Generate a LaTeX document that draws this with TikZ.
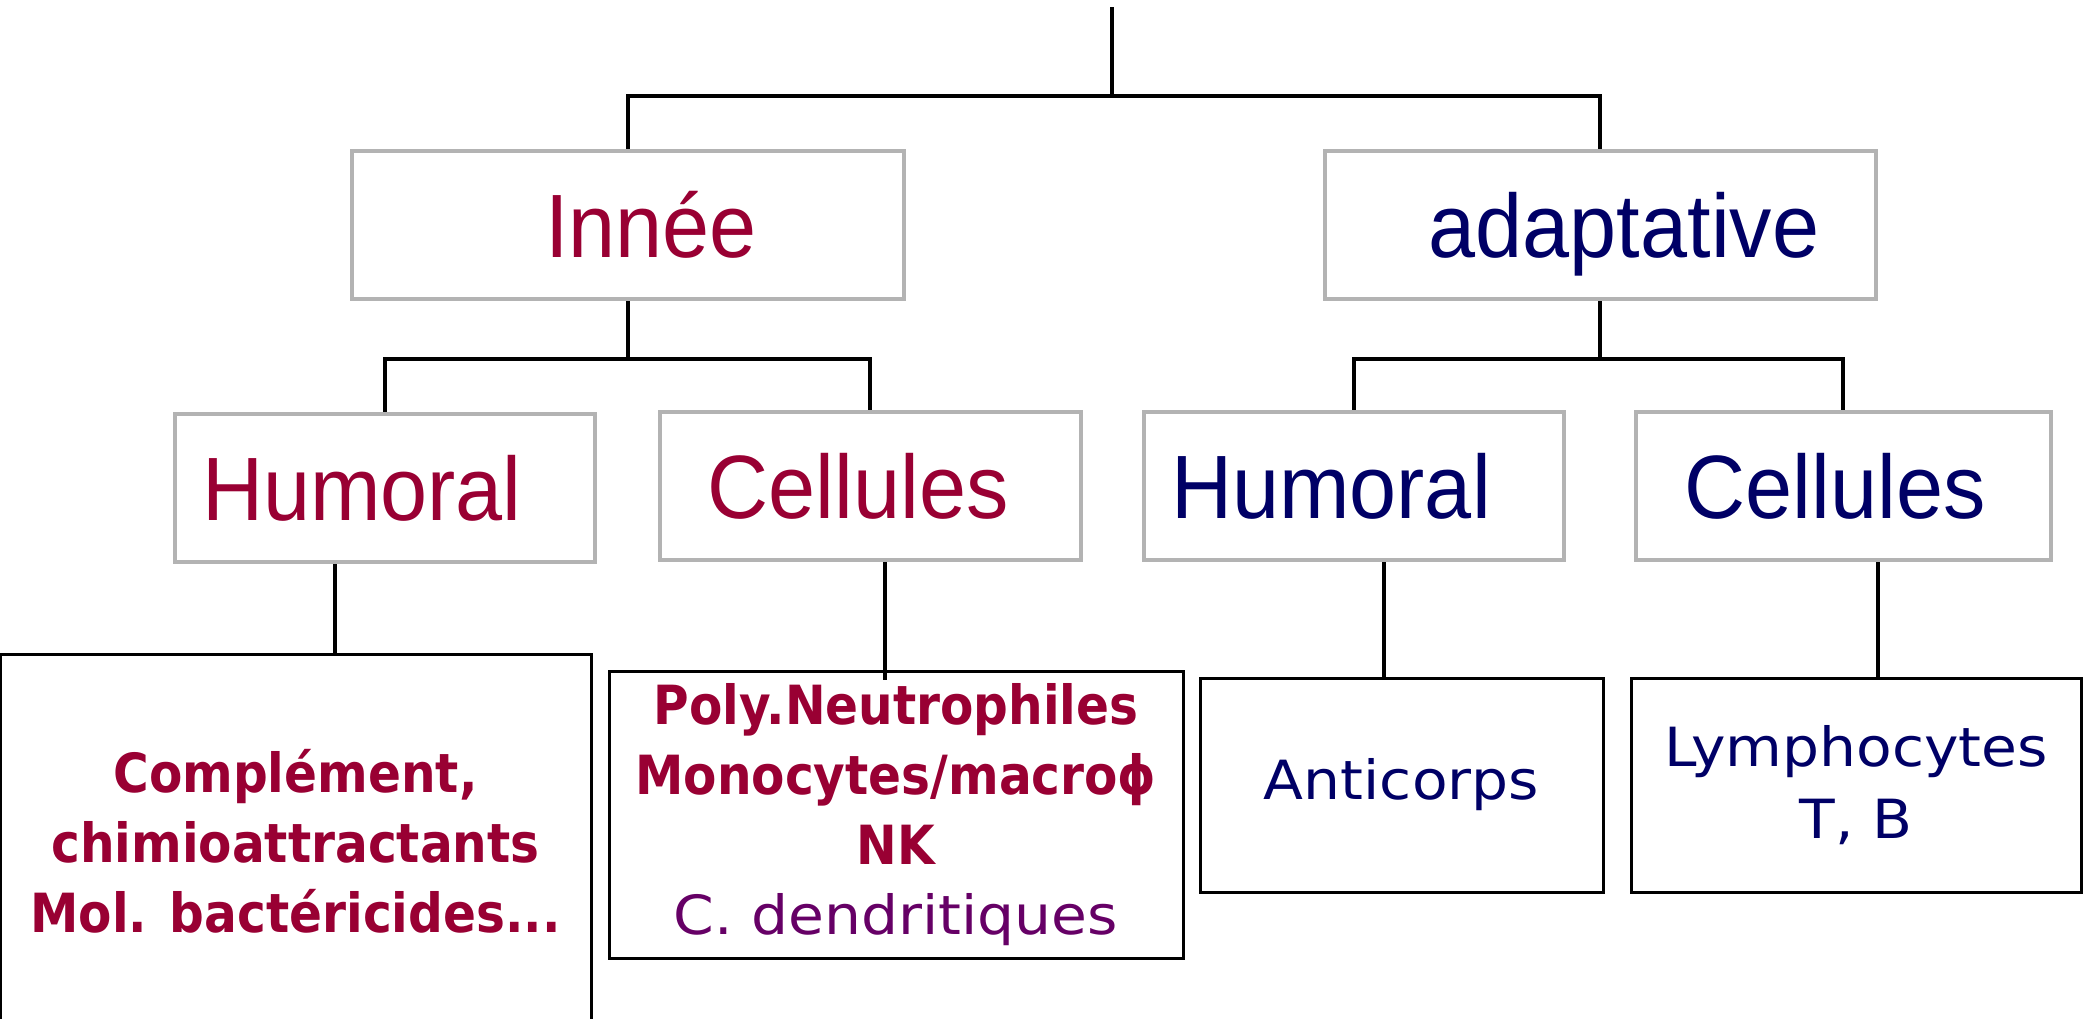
\documentclass[tikz,border=0pt]{standalone}
\usepackage{fontspec}
\usepackage{xcolor}
\usepackage{tikz}

\newfontfamily\arialfont[FakeStretch=0.94]{Liberation Sans}
\newfontfamily\handfont[FakeStretch=1.08]{DejaVu Sans}
\newfontfamily\handboldfont[FakeStretch=0.9]{DejaVu Sans}

\definecolor{innred}{RGB}{153,0,51}
\definecolor{adanavy}{RGB}{0,0,102}
\definecolor{dcpurple}{RGB}{102,0,102}
\definecolor{boxgray}{RGB}{179,179,179}

\tikzset{
	topbox/.style={draw=boxgray, line width=4pt, inner sep=0pt, minimum height=148pt},
	toptext/.style={font=\arialfont\fontsize{90}{100}\selectfont, inner sep=0pt, text height=64pt, text depth=0pt},
	leafbox/.style={draw=black, line width=3pt, inner sep=0pt, align=center},
	boldhand/.style={font=\handboldfont\bfseries\fontsize{54}{70}\selectfont, text=innred},
	lighthand/.style={font=\handfont\fontsize{54}{72}\selectfont, text=adanavy},
	tree/.style={line width=3.5pt}
}

\begin{document}
\begin{tikzpicture}[x=1pt,y=-1pt]
				\useasboundingbox (0,0) rectangle (2093,1018);

				\coordinate (top) at (1112,7);
				\coordinate (split) at (1112,96);

				\node[topbox, minimum width=552pt, label={[toptext, text=innred, xshift=23pt]center:Innée}] (innee) at (628,225) {};
				\node[topbox, minimum width=551pt, label={[toptext, text=adanavy, xshift=24pt]center:adaptative}] (adapt) at (1600,225) {};

				\node[topbox, minimum width=420pt, label={[toptext, text=innred, xshift=-23pt]center:Humoral}] (humR) at (385,488) {};
				\node[topbox, minimum width=421pt, label={[toptext, text=innred, xshift=-12pt]center:Cellules}] (cellR) at (870,486) {};
				\node[topbox, minimum width=420pt, label={[toptext, text=adanavy, xshift=-23pt]center:Humoral}] (humB) at (1354,486) {};
				\node[topbox, minimum width=415pt, label={[toptext, text=adanavy, xshift=-8pt]center:Cellules}] (cellB) at (1843,486) {};

				\node[leafbox, boldhand, minimum width=591pt, minimum height=374pt] (comp) at (295.5,841) {Complément,\\ chimioattractants\\ Mol. bactéricides...};
				\node[leafbox, boldhand, minimum width=574pt, minimum height=287pt] (poly) at (896,815) {Poly.Neutrophiles\\ Monocytes/macroϕ\\ NK\\ {\handfont\mdseries\color{dcpurple}C. dendritiques}};
				\node[leafbox, lighthand, minimum width=403pt, minimum height=214pt] (anti) at (1401.5,785) {Anticorps};
				\node[leafbox, lighthand, minimum width=450pt, minimum height=214pt] (lymph) at (1856,785) {Lymphocytes\\ T, B};

				\draw[tree] (top) -- (split);
				\draw[tree] (split) -| (innee.north);
				\draw[tree] (split) -| (adapt.north);

				\draw[tree] (innee.south) -- ++(0,58) coordinate (splitI);
				\draw[tree] (splitI) -| (humR.north);
				\draw[tree] (splitI) -| (cellR.north);
				\draw[tree] (adapt.south) -- ++(0,58) coordinate (splitA);
				\draw[tree] (splitA) -| (humB.north);
				\draw[tree] (splitA) -| (cellB.north);

				\coordinate (humRc) at ([xshift=-50pt]humR.south);
				\coordinate (cellRc) at ([xshift=15pt]cellR.south);
				\coordinate (humBc) at ([xshift=30pt]humB.south);
				\coordinate (cellBc) at ([xshift=35pt]cellB.south);
				\draw[tree] (humRc) -- (humRc |- comp.north);
				\draw[tree] (cellRc) -- ([yshift=-10pt]cellRc |- poly.north);
				\draw[tree] (humBc) -- (humBc |- anti.north);
				\draw[tree] (cellBc) -- (cellBc |- lymph.north);
			\end{tikzpicture}
\end{document}
